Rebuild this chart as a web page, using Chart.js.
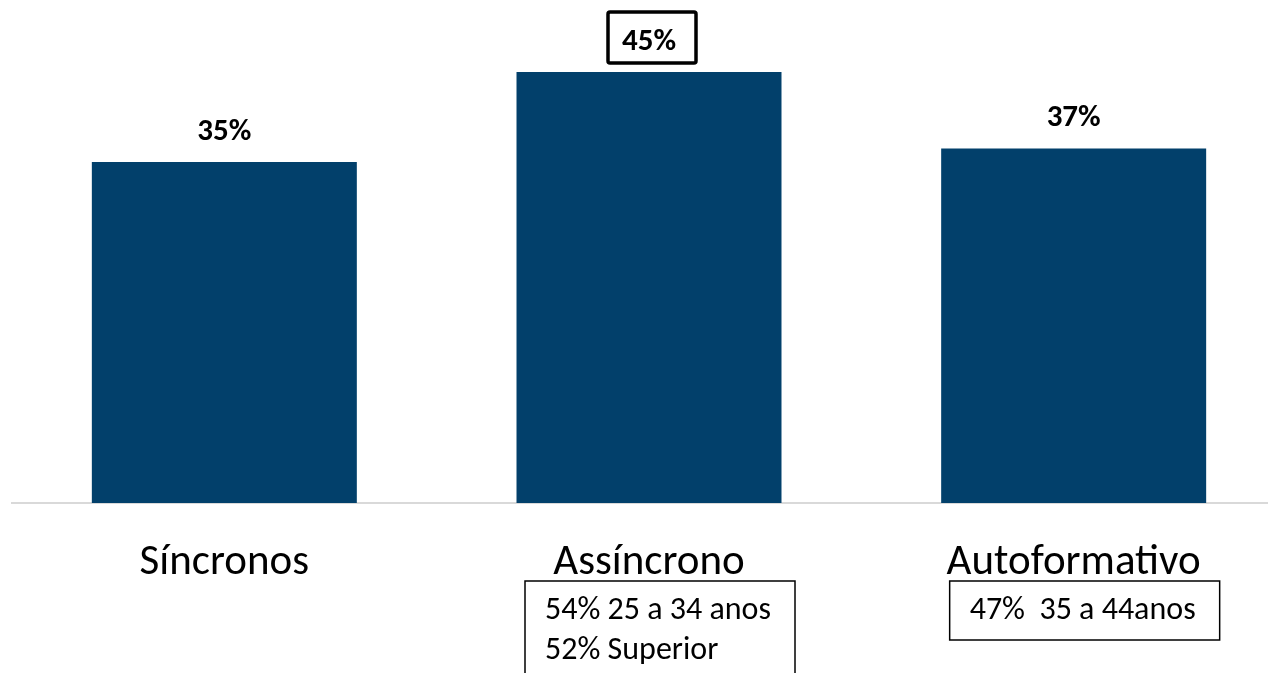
<!DOCTYPE html>
<html>
<head>
<meta charset="utf-8">
<script src="https://cdn.jsdelivr.net/npm/chart.js@4"></script>
<style>
  html, body { margin: 0; padding: 0; background: #fff; overflow: hidden; }
  #wrap { width: 1290px; height: 673px; }
</style>
</head>
<body>
<div id="wrap"><canvas id="grafico"></canvas></div>
<script>
// dados do gráfico
const categorias = ["Síncronos", "Assíncrono", "Autoformativo"];
const valores = [35.6, 45, 37];
const rotulos = ["35%", "45%", "37%"];
const destaque = 1; // rótulo com moldura
const notas = [
  [],
  ["54% 25 a 34 anos", "52% Superior"],
  ["47%  35 a 44anos"]
];

const fonte = "Carlito, Lato, 'Open Sans', sans-serif";

// rótulos em cima das barras + caixas de observação
const rotulosPlugin = {
  id: "rotulos",
  afterDatasetsDraw(chart) {
    const ctx = chart.ctx;
    const meta = chart.getDatasetMeta(0);
    const base = chart.chartArea.bottom;
    ctx.save();
    meta.data.forEach((bar, i) => {
      ctx.fillStyle = "#000";
      ctx.font = "bold 31px " + fonte;
      ctx.textAlign = "center";
      ctx.textBaseline = "middle";
      ctx.fillText(rotulos[i], bar.x, bar.y - 30);

      if (i === destaque) {
        ctx.strokeStyle = "#000";
        ctx.lineWidth = 3.5;
        ctx.beginPath();
        ctx.roundRect(bar.x - 41, bar.y - 60, 88, 51, 2);
        ctx.stroke();
      }

      const linhas = notas[i];
      if (linhas.length) {
        const topo = base + 78;
        const esq = bar.x - 124;
        ctx.strokeStyle = "#000";
        ctx.lineWidth = 1.5;
        ctx.strokeRect(esq, topo, 270, linhas.length * 40 + 19);
        ctx.font = "32px " + fonte;
        ctx.textAlign = "left";
        linhas.forEach((t, k) => {
          ctx.fillText(t, esq + 20, topo + 30 + k * 40);
        });
      }
    });
    ctx.restore();
  }
};

new Chart(document.getElementById("grafico"), {
  type: "bar",
  data: {
    labels: categorias,
    datasets: [{
      data: valores,
      backgroundColor: "#02406b",
      categoryPercentage: 1,
      barPercentage: 0.624
    }]
  },
  options: {
    responsive: true,
    maintainAspectRatio: false,
    animation: false,
    layout: { padding: { top: 24, left: 12, right: 4, bottom: 0 } },
    plugins: {
      legend: { display: false },
      tooltip: { enabled: false }
    },
    scales: {
      x: {
        grid: { display: false, drawTicks: false },
        border: { color: "#d9d9d9", width: 2 },
        ticks: {
          color: "#000",
          padding: 34,
          font: { family: fonte, size: 43 }
        },
        afterFit: s => { s.height = 170; }
      },
      y: {
        display: false,
        min: 0,
        max: 50
      }
    }
  },
  plugins: [rotulosPlugin]
});
</script>
</body>
</html>
